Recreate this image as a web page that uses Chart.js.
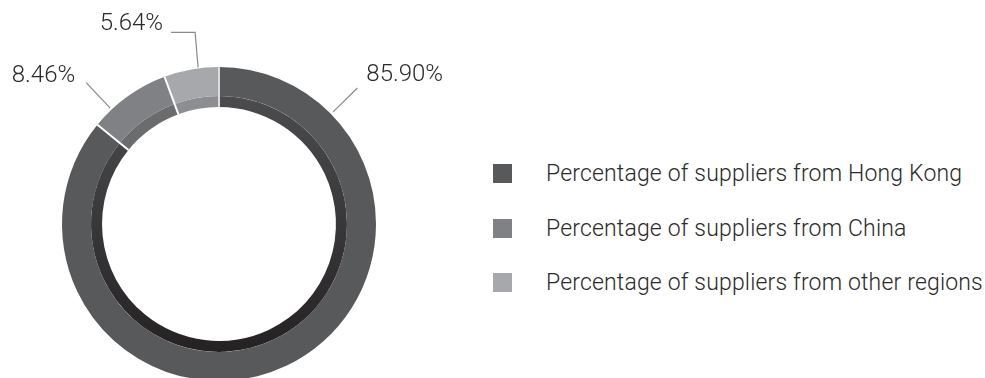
<!DOCTYPE html>
<html>
<head>
<meta charset="utf-8">
<script src="https://cdn.jsdelivr.net/npm/chart.js@4.4.1/dist/chart.umd.min.js"></script>
<style>
  html, body { margin: 0; padding: 0; background: #fff; overflow: hidden; width: 985px; height: 378px; }
  #donutWrap { position: absolute; left: 0; top: 0; width: 470px; height: 448px; }
  #legend { position: absolute; left: 493px; top: 164px; font-family: Roboto, "Liberation Sans", sans-serif; font-weight: 300; font-size: 23px; letter-spacing: 0.17px; color: #2a2a2a; }
  .legend-item { display: flex; align-items: center; height: 19px; margin-bottom: 35.5px; white-space: nowrap; }
  .legend-box { width: 19px; height: 19px; margin-right: 34px; flex: none; }
</style>
</head>
<body>
<div id="donutWrap"><canvas id="supplierChart"></canvas></div>
<div id="legend"></div>
<script>
// Chart data
const categories = [
    'Percentage of suppliers from Hong Kong',
    'Percentage of suppliers from China',
    'Percentage of suppliers from other regions'
];
const shares = [85.90, 8.46, 5.64];
const valueLabels = ['85.90%', '8.46%', '5.64%'];

// Colours (outer band and the darker inner band)
const outerColors = ['#58595b', '#808184', '#a7a8ab'];
const innerColors = ['#3a393b', '#6b6c6e', '#8d8e91'];

// Hong Kong inner band fades to almost black at the bottom
function innerColor(ctx) {
    if (ctx.dataIndex !== 0) return innerColors[ctx.dataIndex];
    const area = ctx.chart.chartArea;
    if (!area) return innerColors[0];
    const g = ctx.chart.ctx.createLinearGradient(0, area.top, 0, area.bottom);
    g.addColorStop(0, '#505052');
    g.addColorStop(0.5, '#38373a');
    g.addColorStop(1, '#211d1e');
    return g;
}

// White gaps between the segments
const separatorPlugin = {
    id: 'separators',
    afterDatasetsDraw(chart) {
        const ctx = chart.ctx;
        const outer = chart.getDatasetMeta(0).data;
        const inner = chart.getDatasetMeta(1).data;
        ctx.save();
        outer.forEach((arc, i) => {
            const a = arc.startAngle;
            const rIn = inner[i].innerRadius;
            const rOut = arc.outerRadius;
            ctx.strokeStyle = i === 0 ? '#dcdcdc' : '#ffffff';
            ctx.lineWidth = 2;
            ctx.beginPath();
            ctx.moveTo(arc.x + Math.cos(a) * rIn, arc.y + Math.sin(a) * rIn);
            ctx.lineTo(arc.x + Math.cos(a) * rOut, arc.y + Math.sin(a) * rOut);
            ctx.stroke();
        });
        ctx.restore();
    }
};

// Percentage labels with leader lines
const labelPlugin = {
    id: 'valueLabels',
    afterDraw(chart, args, opts) {
        const ctx = chart.ctx;
        const arc0 = chart.getDatasetMeta(0).data[0];
        const cx = arc0.x, cy = arc0.y, R = arc0.outerRadius;
        const pt = (deg, r) => {
            const rad = (deg - 90) * Math.PI / 180;
            return { x: cx + Math.cos(rad) * r, y: cy + Math.sin(rad) * r };
        };
        ctx.save();
        ctx.strokeStyle = '#8a8a8a';
        ctx.lineWidth = 1.2;
        ctx.fillStyle = '#2a2a2a';
        ctx.font = '300 24px Roboto, "Liberation Sans", sans-serif';
        ctx.textBaseline = 'middle';
        opts.leaders.forEach((ld, i) => {
            const p0 = pt(ld.angle, R + ld.gap);
            const pts = [p0];
            if (ld.len) {
                pts.push(pt(ld.angle, R + ld.gap + ld.len));
            }
            (ld.steps || []).forEach(s => {
                const last = pts[pts.length - 1];
                pts.push({ x: last.x + s[0], y: last.y + s[1] });
            });
            ctx.beginPath();
            ctx.moveTo(pts[0].x, pts[0].y);
            pts.slice(1).forEach(p => ctx.lineTo(p.x, p.y));
            ctx.stroke();
            const end = pts[pts.length - 1];
            ctx.textAlign = ld.align;
            ctx.fillText(valueLabels[i], end.x + ld.text[0], end.y + ld.text[1]);
        });
        ctx.restore();
    }
};

const chart = new Chart(document.getElementById('supplierChart'), {
    type: 'doughnut',
    data: {
        labels: categories,
        datasets: [
            { data: shares, backgroundColor: outerColors, borderWidth: 0, weight: 29 },
            { data: shares, backgroundColor: innerColor, borderWidth: 0, weight: 11 }
        ]
    },
    options: {
        responsive: true,
        maintainAspectRatio: false,
        animation: false,
        events: [],
        cutout: '74.5%',
        layout: { padding: { left: 62, right: 94, top: 67, bottom: 67 } },
        plugins: {
            legend: { display: false },
            tooltip: { enabled: false },
            valueLabels: {
                leaders: [
                    { angle: 45.5, gap: 3, len: 34, align: 'left', text: [9, -13] },
                    { angle: -43.2, gap: 2, len: 35, align: 'right', text: [-11, -7] },
                    { angle: -7.6, gap: 1, steps: [[-3, -35], [-24, 0]], align: 'right', text: [-8, -8] }
                ]
            }
        }
    },
    plugins: [separatorPlugin, labelPlugin]
});

// Legend built from the chart's own labels and colours
const legendEl = document.getElementById('legend');
chart.data.labels.forEach((label, i) => {
    const item = document.createElement('div');
    item.className = 'legend-item';
    const box = document.createElement('span');
    box.className = 'legend-box';
    box.style.background = chart.data.datasets[0].backgroundColor[i];
    const text = document.createElement('span');
    text.textContent = label;
    item.appendChild(box);
    item.appendChild(text);
    legendEl.appendChild(item);
});
</script>
</body>
</html>
